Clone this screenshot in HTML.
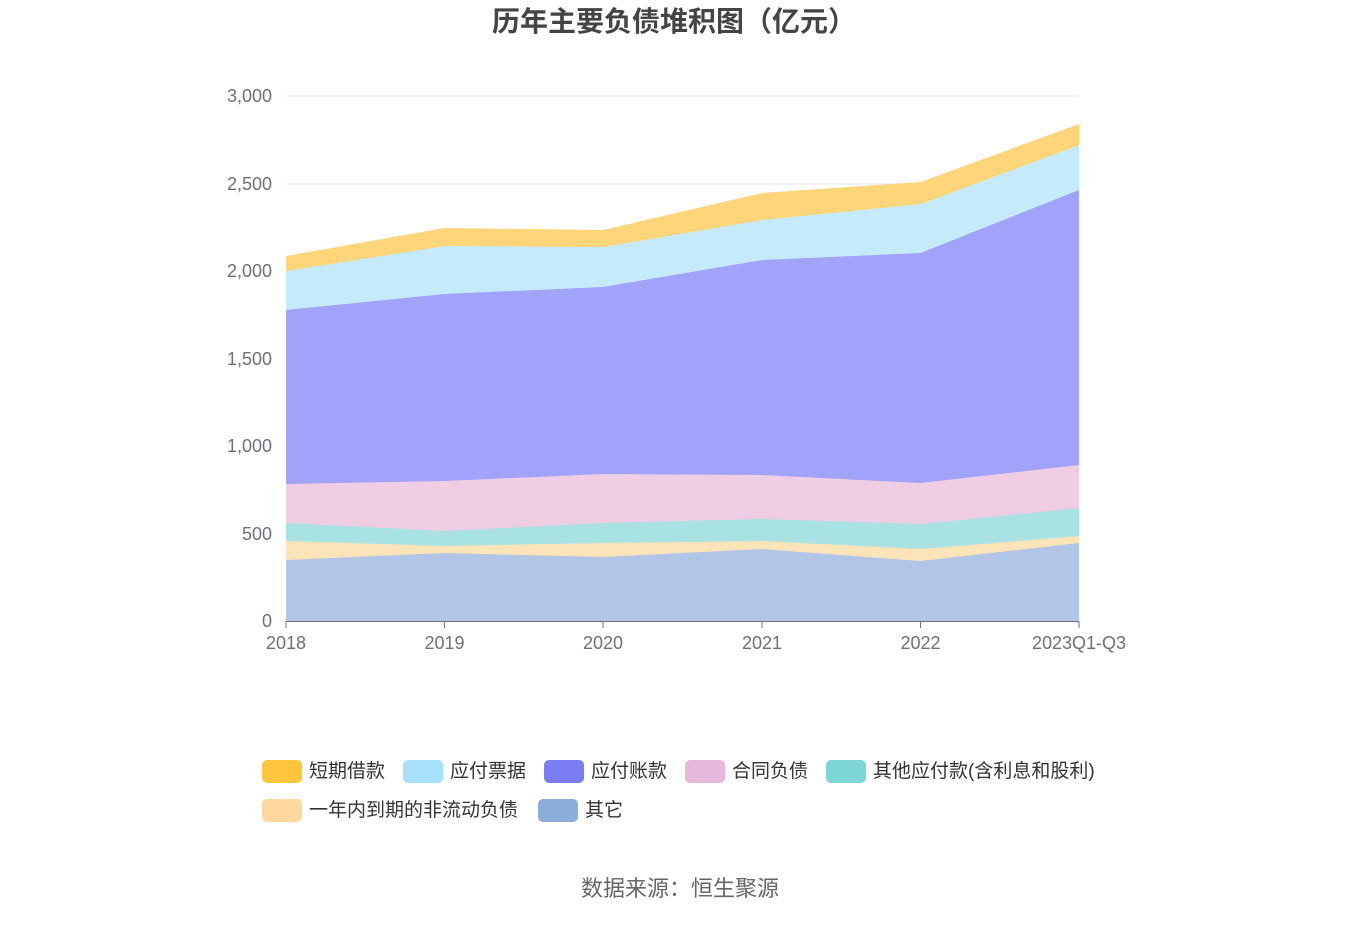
<!DOCTYPE html>
<html><head><meta charset="utf-8"><style>
body{margin:0;background:#fff;width:1360px;height:920px;overflow:hidden;font-family:"Liberation Sans","Noto Sans CJK SC",sans-serif;}
</style></head><body>
<svg width="1360" height="920" xmlns="http://www.w3.org/2000/svg" font-family="Liberation Sans, Noto Sans CJK SC, sans-serif">
<text x="674" y="31" text-anchor="middle" font-size="28" font-weight="bold" fill="#444">历年主要负债堆积图（亿元）</text>
<g stroke="#e0e6f1" stroke-width="1">
<line x1="286" x2="1079" y1="96" y2="96"/><line x1="286" x2="1079" y1="184" y2="184"/><line x1="286" x2="1079" y1="271" y2="271"/><line x1="286" x2="1079" y1="359" y2="359"/><line x1="286" x2="1079" y1="446" y2="446"/><line x1="286" x2="1079" y1="534" y2="534"/>
</g>
<g font-size="18" fill="#6e7079" text-anchor="end">
<text x="272" y="102">3,000</text><text x="272" y="190">2,500</text><text x="272" y="277">2,000</text><text x="272" y="365">1,500</text><text x="272" y="452">1,000</text><text x="272" y="540">500</text><text x="272" y="627">0</text>
</g>
<polygon fill="#ffd57a" points="286,256 444.5,228 603,230 762,193 920.5,182 1079,124 1079,621 286,621"/>
<polygon fill="#c5eafc" points="286,271 444.5,246 603,247 762,220 920.5,204 1079,145 1079,621 286,621"/>
<polygon fill="#a0a3f9" points="286,310 444.5,294 603,287 762,260 920.5,253 1079,190 1079,621 286,621"/>
<polygon fill="#efcde3" points="286,484 444.5,481 603,474 762,475 920.5,483 1079,465 1079,621 286,621"/>
<polygon fill="#a8e2e2" points="286,523 444.5,531 603,523 762,519 920.5,524 1079,508 1079,621 286,621"/>
<polygon fill="#fde3b8" points="286,541 444.5,546 603,543 762,541 920.5,549 1079,536 1079,621 286,621"/>
<polygon fill="#b1c6e6" points="286,560 444.5,553 603,557 762,549 920.5,561 1079,543 1079,621 286,621"/>
<line x1="286" x2="1079" y1="621.5" y2="621.5" stroke="#6e7079"/>
<g stroke="#6e7079"><line x1="286" x2="286" y1="621" y2="628"/><line x1="444.5" x2="444.5" y1="621" y2="628"/><line x1="603" x2="603" y1="621" y2="628"/><line x1="762" x2="762" y1="621" y2="628"/><line x1="920.5" x2="920.5" y1="621" y2="628"/><line x1="1079" x2="1079" y1="621" y2="628"/></g>
<g font-size="18" fill="#6e7079" text-anchor="middle">
<text x="286" y="649">2018</text><text x="444.5" y="649">2019</text><text x="603" y="649">2020</text><text x="762" y="649">2021</text><text x="920.5" y="649">2022</text><text x="1079" y="649">2023Q1-Q3</text>
</g>
<g font-size="19" fill="#333">
<rect x="262" y="760" width="40" height="23" rx="5" fill="#ffc53d"/><text x="309" y="777">短期借款</text>
<rect x="403" y="760" width="40" height="23" rx="5" fill="#a7e0fb"/><text x="450" y="777">应付票据</text>
<rect x="544" y="760" width="40" height="23" rx="5" fill="#7b7ef2"/><text x="591" y="777">应付账款</text>
<rect x="685" y="760" width="40" height="23" rx="5" fill="#e8b8dc"/><text x="732" y="777">合同负债</text>
<rect x="826" y="760" width="40" height="23" rx="5" fill="#7fd6d6"/><text x="873" y="777">其他应付款(含利息和股利)</text>
<rect x="262" y="799" width="40" height="23" rx="5" fill="#ffd89d"/><text x="309" y="816">一年内到期的非流动负债</text>
<rect x="538" y="799" width="40" height="23" rx="5" fill="#8dadd9"/><text x="585" y="816">其它</text>
</g>
<text x="680" y="896" text-anchor="middle" font-size="22" fill="#666">数据来源：恒生聚源</text>
</svg>
</body></html>
